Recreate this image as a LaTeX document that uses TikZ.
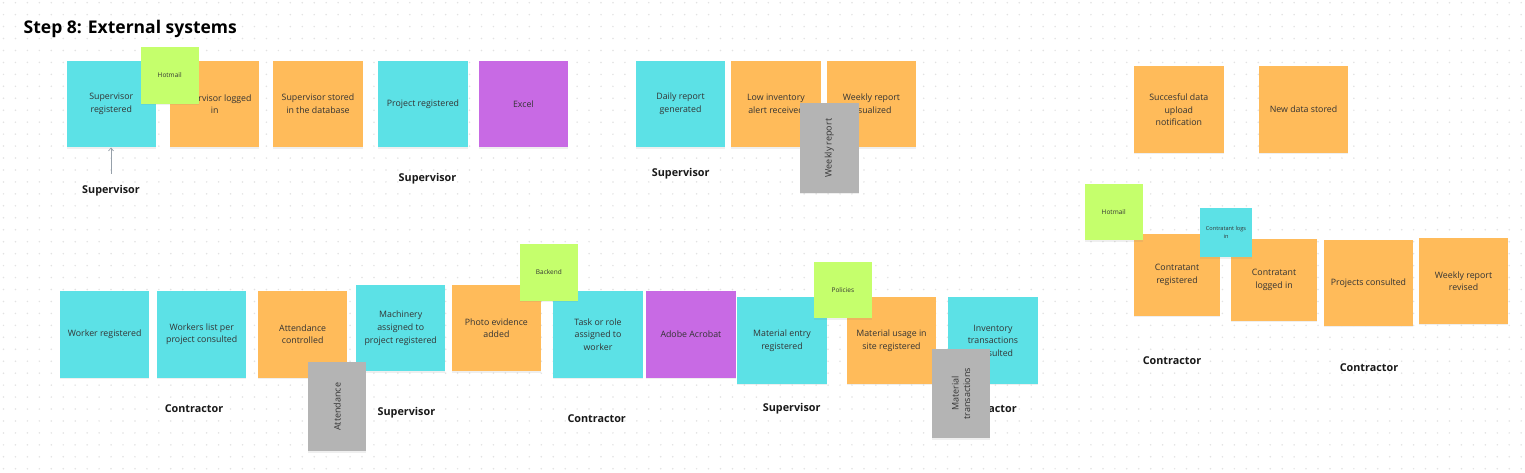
\documentclass[tikz,border=0pt]{standalone}
\usepackage{fontspec}
\setmainfont{Open Sans}
\usepackage{xcolor}
\usepackage{tikz}
\usetikzlibrary{shadows, arrows.meta}

\definecolor{notecyan}{RGB}{92,225,230}
\definecolor{noteorange}{RGB}{255,187,90}
\definecolor{notepurple}{RGB}{200,106,228}
\definecolor{notegreen}{RGB}{197,255,108}
\definecolor{notegrey}{RGB}{180,180,180}
\definecolor{dotgrey}{RGB}{226,226,226}
\definecolor{arrowgrey}{RGB}{150,160,170}

\begin{document}
\begin{tikzpicture}[x=1pt, y=-1pt,
	note/.style={rectangle, inner sep=0pt, minimum width=89.5pt, minimum height=86.5pt, align=center, font=\fontsize{8.8}{12.6}\selectfont, text=black!80, drop shadow={shadow xshift=0pt, shadow yshift=-1.3pt, opacity=0.12}},
	smallnote/.style={note, fill=notegreen, minimum width=57.8pt, minimum height=56.4pt, font=\fontsize{6.5}{8}\selectfont},
	tagnote/.style={note, fill=notegrey, minimum width=89.5pt, minimum height=58.5pt, rotate=90, font=\fontsize{9}{11.5}\selectfont},
	actor/.style={font=\bfseries\fontsize{10.8}{12}\selectfont, text=black!90}]
					\useasboundingbox (0,0) rectangle (1525,473);
					\fill[white] (0,0) rectangle (1525,473);
					\foreach \i in {0,...,127} {
						\foreach \j in {0,...,39} {
							\fill[dotgrey] (3.5+11.95*\i, 2.7+11.95*\j) circle (0.85pt);
						}
					}
					
					\node[anchor=base west, inner sep=0pt, font=\bfseries\fontsize{17.5}{20}\selectfont] (title) at (23.5,34) {Step 8: External systems};
					
					% actor labels
					\node[actor] (supLblA) at (111,190.5) {Supervisor};
					\node[actor] (supLblB) at (427.5,179) {Supervisor};
					\node[actor] (supLblC) at (680.7,174) {Supervisor};
					\node[actor] (contLblA) at (194,408.3) {Contractor};
					\node[actor] (supLblD) at (406.4,413) {Supervisor};
					\node[actor] (contLblB) at (596.7,419) {Contractor};
					\node[actor] (supLblE) at (791.7,408.3) {Supervisor};
					\node[actor] (contLblC) at (987.5,408.3) {Contractor};
					\node[actor] (contLblD) at (1172,361) {Contractor};
					\node[actor] (contLblE) at (1369,367.7) {Contractor};
					
					% top row
					\node[note, fill=notecyan] (supReg) at (111.3,104) {Supervisor\\registered};
					\node[note, fill=noteorange] (supLog) at (214.7,104) {Supervisor logged\\in};
					\node[note, fill=noteorange] (supStored) at (318,104) {Supervisor stored\\in the database};
					\node[note, fill=notecyan] (projReg) at (423,104) {Project registered};
					\node[note, fill=notepurple] (excel) at (523.4,104) {Excel};
					\node[note, fill=notecyan] (dailyRep) at (680.5,104) {Daily report\\generated};
					\node[note, fill=noteorange] (lowInv) at (776,104) {Low inventory\\alert received};
					\node[note, fill=noteorange] (weeklyVis) at (871.5,104) {Weekly report\\visualized};
					\node[smallnote] (hotmailA) at (169.7,75.5) {Hotmail};
					\node[tagnote] (weeklyRep) at (829.3,148) {Weekly report};
					\draw[-{Straight Barb[length=3pt, width=5pt]}, arrowgrey, line width=0.7pt, shorten <=8pt] (supLblA.north) -- (supLblA.north |- supReg.south);
					
					% right group
					\node[note, fill=noteorange] (sucUpload) at (1178.8,109.7) {Succesful data\\upload\\notification};
					\node[note, fill=noteorange] (newData) at (1303.5,109.7) {New data stored};
					\node[note, fill=noteorange, minimum width=86pt, minimum height=81.7pt] (contReg) at (1177,275) {Contratant\\registered};
					\node[note, fill=noteorange, minimum width=85.7pt, minimum height=81.7pt] (contLogged) at (1274,280) {Contratant\\logged in};
					\node[note, fill=noteorange, minimum width=89pt, minimum height=86.3pt] (projCons) at (1368.5,283) {Projects consulted};
					\node[note, fill=noteorange, minimum width=89pt, minimum height=86.3pt] (weeklyRev) at (1463.5,281) {Weekly report\\revised};
					\node[smallnote] (hotmailB) at (1113.7,212) {Hotmail};
					\node[smallnote, fill=notecyan, minimum width=51.7pt, minimum height=49.6pt, font=\fontsize{5.6}{7.5}\selectfont] (contLogs) at (1226,232.5) {Contratant logs\\in};
					
					% bottom row
					\node[note, fill=notecyan] (workerReg) at (104.7,334.3) {Worker registered};
					\node[note, fill=notecyan] (workersList) at (201.7,334.3) {Workers list per\\project consulted};
					\node[note, fill=noteorange] (attCtrl) at (302.7,334.3) {Attendance\\controlled};
					\node[note, fill=notecyan] (machinery) at (400.7,328.2) {Machinery\\assigned to\\project registered};
					\node[note, fill=noteorange] (photoEv) at (496.4,328.2) {Photo evidence\\added};
					\node[note, fill=notecyan] (taskRole) at (598,334.3) {Task or role\\assigned to\\worker};
					\node[note, fill=notepurple] (acrobat) at (690.9,334.3) {Adobe Acrobat};
					\node[note, fill=notecyan] (matEntry) at (782,340.7) {Material entry\\registered};
					\node[note, fill=noteorange] (matUsage) at (891.5,340.7) {Material usage in\\site registered};
					\node[note, fill=notecyan] (invTrans) at (993,340.7) {Inventory\\transactions\\consulted};
					\node[tagnote] (attendance) at (337.2,406.7) {Attendance};
					\node[smallnote] (backend) at (548.9,272.5) {Backend};
					\node[smallnote] (policies) at (842.9,290) {Policies};
					\node[tagnote] (matTrans) at (961,393.5) {Material\\transactions};
					\end{tikzpicture}
\end{document}
